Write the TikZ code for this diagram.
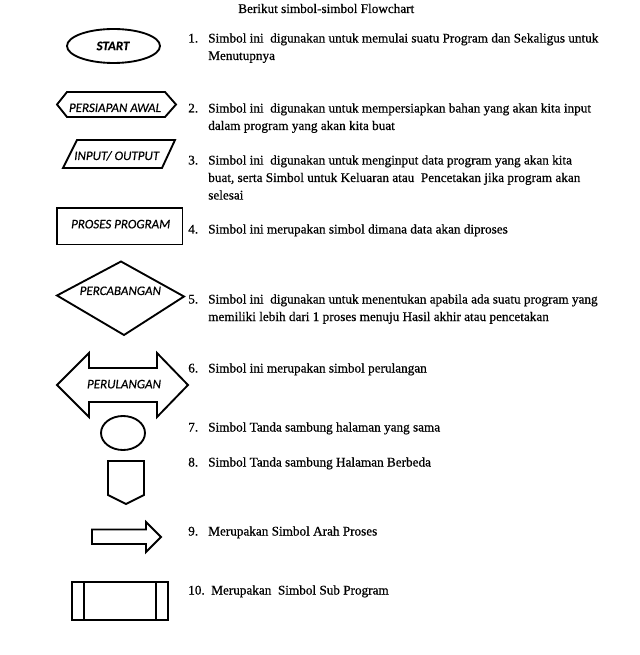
\documentclass[tikz,border=0pt]{standalone}
\usepackage{fontspec}
\setmainfont[FakeBold=0.6]{Liberation Serif}
\newfontfamily\lblfont[FakeBold=0.3]{Carlito}
\begin{document}
\begin{tikzpicture}[x=0.75pt,y=-0.75pt,
  shp/.style={draw=black,line width=1.4pt,line join=miter},
  lbl/.style={inner sep=0pt,anchor=base,font=\lblfont\itshape\fontsize{9.75}{12}\selectfont},
  txt/.style={inner sep=0pt,anchor=base west,font=\fontsize{9.9}{12}\selectfont},
  num/.style={inner sep=0pt,anchor=base west,font=\fontsize{9.9}{12}\selectfont}]
\useasboundingbox[fill=white] (0,0) rectangle (639,655);
% shapes
\draw[shp] (113.5,46) ellipse [x radius=46.5,y radius=17];
\draw[shp] (57,104.5) -- (67,92) -- (165,92) -- (176,104.5) -- (165,117) -- (67,117) -- cycle;
\draw[shp] (77,140) -- (175,140) -- (162,168) -- (63,168) -- cycle;
\draw[shp] (57,208) rectangle (182.5,244.5);
\draw[shp] (57,295.5) -- (121,261.5) -- (184,296.5) -- (124,335) -- cycle;
\draw[shp] (57,385) -- (89,353) -- (89,368) -- (157,368) -- (157,353) -- (188,385) -- (157,417) -- (157,402) -- (89,402) -- (89,417) -- cycle;
\draw[shp] (123,433) ellipse [x radius=22,y radius=17];
\draw[shp] (108,461) -- (144,461) -- (144,495) -- (126,504) -- (108,495) -- cycle;
\draw[shp] (92,529.5) -- (146,529.5) -- (146,522) -- (161,537) -- (146,552) -- (146,544) -- (92,544) -- cycle;
\draw[shp] (72,582) rectangle (168,620);
\draw[shp] (84,582) -- (84,620);
\draw[shp] (156,582) -- (156,620);
% labels
\node[lbl,font=\lblfont\bfseries\itshape\fontsize{9.75}{12}\selectfont] (lstart) at (113,50.2) {START};
\node[lbl] (lpers) at (115,112) {PERSIAPAN AWAL};
\node[lbl] (lio) at (116.7,160) {INPUT/ OUTPUT};
\node[lbl] (lproc) at (120.7,228.3) {PROSES PROGRAM};
\node[lbl] (lcab) at (120.3,295) {PERCABANGAN};
\node[lbl] (lul) at (124,388.3) {PERULANGAN};
% text
\node[txt] (title) at (238,13) {Berikut simbol-simbol Flowchart};
\node[num] (n1) at (188,42.5) {1.};
\node[txt] (t1a) at (208,42.5) {Simbol ini \ digunakan untuk memulai suatu Program dan Sekaligus untuk};
\node[txt] (t1b) at (208,60) {Menutupnya};
\node[num] (n2) at (188,112.5) {2.};
\node[txt] (t2a) at (208,112.5) {Simbol ini \ digunakan untuk mempersiapkan bahan yang akan kita input};
\node[txt] (t2b) at (208,130) {dalam program yang akan kita buat};
\node[num] (n3) at (188,164.5) {3.};
\node[txt] (t3a) at (208,164.5) {Simbol ini \ digunakan untuk menginput data program yang akan kita};
\node[txt] (t3b) at (208,182) {buat, serta Simbol untuk Keluaran atau \ Pencetakan jika program akan};
\node[txt] (t3c) at (208,199.5) {selesai};
\node[num] (n4) at (188,233.5) {4.};
\node[txt] (t4) at (208,233.5) {Simbol ini merupakan simbol dimana data akan diproses};
\node[num] (n5) at (188,303.5) {5.};
\node[txt] (t5a) at (208,303.5) {Simbol ini \ digunakan untuk menentukan apabila ada suatu program yang};
\node[txt] (t5b) at (208,321) {memiliki lebih dari 1 proses menuju Hasil akhir atau pencetakan};
\node[num] (n6) at (188,372.5) {6.};
\node[txt] (t6) at (208,372.5) {Simbol ini merupakan simbol perulangan};
\node[num] (n7) at (188,431.5) {7.};
\node[txt] (t7) at (208,431.5) {Simbol Tanda sambung halaman yang sama};
\node[num] (n8) at (188,466.5) {8.};
\node[txt] (t8) at (208,466.5) {Simbol Tanda sambung Halaman Berbeda};
\node[num] (n9) at (188,535.5) {9.};
\node[txt] (t9) at (208,535.5) {Merupakan Simbol Arah Proses};
\node[num] (n10) at (188,594.5) {10.};
\node[txt] (t10) at (211,594.5) {Merupakan \ Simbol Sub Program};
\end{tikzpicture}
\end{document}
